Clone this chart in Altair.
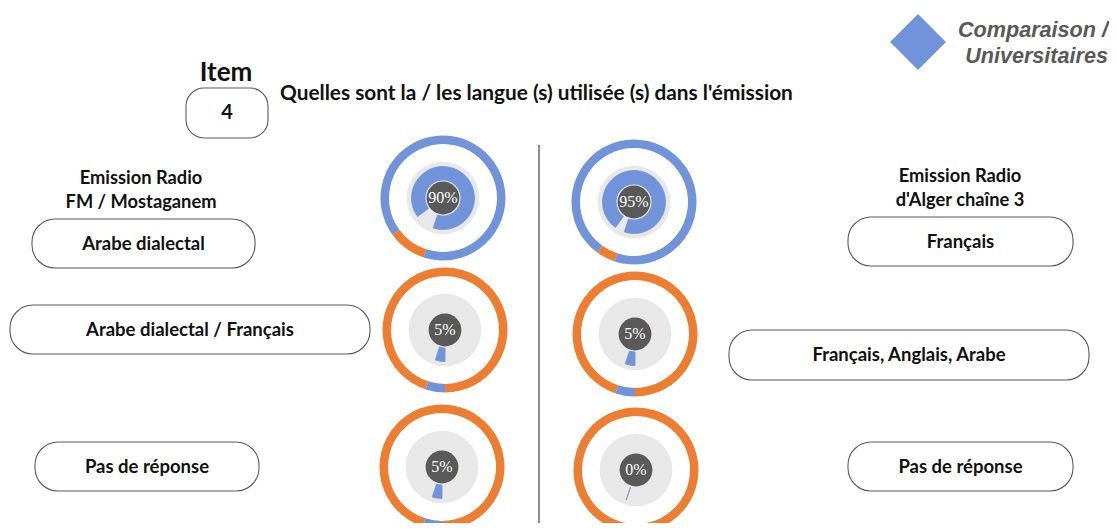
import math
import altair as alt
import pandas as pd

# ---------------- data ----------------
emissions = ["Emission Radio FM / Mostaganem"] * 3 + ["Emission Radio d'Alger chaîne 3"] * 3
reponses = ["Arabe dialectal", "Arabe dialectal / Français", "Pas de réponse",
            "Français", "Français, Anglais, Arabe", "Pas de réponse"]
pourcentages = [90, 5, 5, 95, 5, 0]

titre = "Quelles sont la / les langue (s) utilisée (s) dans l'émission"
item_num = "4"
entete_gauche = ["Emission Radio", "FM / Mostaganem"]
entete_droite = ["Emission Radio", "d'Alger chaîne 3"]
legende = ["Comparaison /", "Universitaires"]

# ---------------- layout (pixel frame) ----------------
W, H = 1101, 515
BLUE = "#7193da"
ORANGE = "#ed7d31"
LIGHT = "#e8e8e8"
DARK = "#595959"
FONT = "Lato"

donut_cx = [443, 445, 442, 634, 635, 636]
donut_cy = [198, 330, 467, 202, 334, 470]
box_x1 = [32, 10, 35, 848, 729, 848]
box_x2 = [255, 370, 259, 1073, 1089, 1073]
box_y1 = [219, 305, 442, 217, 330, 442]
box_y2 = [268, 354, 491, 266, 380, 491]

X = alt.Scale(domain=[8, 8 + W], nice=False, zero=False)
Y = alt.Scale(domain=[8, 8 + H], nice=False, zero=False, reverse=True)


def xq(f):
    return alt.X(f, type="quantitative", scale=X, axis=None)


def yq(f):
    return alt.Y(f, type="quantitative", scale=Y, axis=None)


# donut segment table
rows = []
for i, p in enumerate(pourcentages):
    rows.append(dict(id=i, part="autre", v=100 - p, ordre=0, pct=p,
                     cx=donut_cx[i], cy=donut_cy[i]))
    rows.append(dict(id=i, part="réponse", v=p, ordre=1, pct=p,
                     cx=donut_cx[i], cy=donut_cy[i]))
seg = pd.DataFrame(rows)

start = math.radians(198)
theta_scale = alt.Scale(domain=[0, 100], range=[start, start + 2 * math.pi])
color_scale = alt.Scale(domain=["autre", "réponse"], range=[ORANGE, BLUE])

base_seg = alt.Chart(seg).transform_stack(
    stack="v", groupby=["id"], as_=["t0", "t1"],
    sort=[alt.SortField("ordre", order="ascending")]
)

outer = base_seg.mark_arc(radius=62.5, radius2=54).encode(
    x=xq("cx"), y=yq("cy"),
    theta=alt.Theta("t0:Q", scale=theta_scale, stack=None),
    theta2="t1:Q",
    color=alt.Color("part:N", scale=color_scale, legend=None),
)

centres = pd.DataFrame(dict(id=list(range(6)), cx=donut_cx, cy=donut_cy, pct=pourcentages))

gray = alt.Chart(centres).mark_circle(size=math.pi * 41 ** 2, color=LIGHT, opacity=1).encode(
    x=xq("cx"), y=yq("cy"))

inner = base_seg.transform_filter(alt.datum.part == "réponse").mark_arc(
    radius=31.5, radius2=18, color=BLUE, stroke=BLUE, strokeWidth=0.8
).encode(
    x=xq("cx"), y=yq("cy"),
    theta=alt.Theta("t0:Q", scale=theta_scale, stack=None),
    theta2="t1:Q",
)

dark = alt.Chart(centres).mark_circle(size=math.pi * 18.5 ** 2, color=DARK, opacity=1).encode(
    x=xq("cx"), y=yq("cy"))

pct_text = alt.Chart(centres).transform_calculate(
    lab="datum.pct + '%'"
).mark_text(font="Liberation Serif", fontSize=16, color="white", baseline="middle", align="center").encode(
    x=xq("cx"), y=yq("cy"), text="lab:N")

# answer boxes
boxes_df = pd.DataFrame(dict(rep=reponses, x1=box_x1, x2=box_x2, y1=box_y1, y2=box_y2))
boxes = alt.Chart(boxes_df).mark_rect(
    fill="white", stroke="#5a5a5a", strokeWidth=1.1, cornerRadius=23
).encode(x=xq("x1"), x2="x2", y=yq("y1"), y2="y2")

box_text = alt.Chart(boxes_df).transform_calculate(
    mx="(datum.x1 + datum.x2) / 2", my="(datum.y1 + datum.y2) / 2"
).mark_text(font=FONT, fontWeight="bold", fontSize=18.5, color="#111111",
            baseline="middle", align="center").encode(
    x=xq("mx"), y=yq("my"), text="rep:N")

# item box
item_df = pd.DataFrame(dict(x1=[186], x2=[268], y1=[88], y2=[138], t=[item_num]))
item_box = alt.Chart(item_df).mark_rect(
    fill="white", stroke="#5a5a5a", strokeWidth=1.1, cornerRadius=18
).encode(x=xq("x1"), x2="x2", y=yq("y1"), y2="y2")
item_txt = alt.Chart(item_df).transform_calculate(
    mx="(datum.x1 + datum.x2) / 2", my="(datum.y1 + datum.y2) / 2"
).mark_text(font=FONT, fontWeight="bold", fontSize=20, color="#111111",
            baseline="middle").encode(x=xq("mx"), y=yq("my"), text="t:N")

# headings
heads = pd.DataFrame(dict(
    t=["Item", titre] + entete_gauche + entete_droite,
    x=[226, 280, 141, 141, 960, 960],
    y=[73, 94, 179, 203, 177, 201],
    size=[26, 20.8, 18.3, 18.3, 18.3, 18.3],
    al=["center", "left", "center", "center", "center", "center"],
))
head_c = alt.Chart(heads[heads.al == "center"]).mark_text(
    font=FONT, fontWeight="bold", color="#111111", baseline="middle", align="center"
).encode(x=xq("x"), y=yq("y"), text="t:N",
         size=alt.Size("size:Q", scale=None, legend=None))
head_l = alt.Chart(heads[heads.al == "left"]).mark_text(
    font=FONT, fontWeight="bold", color="#111111", baseline="middle", align="left"
).encode(x=xq("x"), y=yq("y"), text="t:N",
         size=alt.Size("size:Q", scale=None, legend=None))

# legend diamond + text
leg_df = pd.DataFrame(dict(x=[918], y=[42]))
diamond = alt.Chart(leg_df).mark_point(
    shape="square", angle=45, filled=True, opacity=1, color=BLUE, size=1560
).encode(x=xq("x"), y=yq("y"))
leg_txt = alt.Chart(pd.DataFrame(dict(t=legende, x=[1108, 1108], y=[31, 57]))).mark_text(
    font="Liberation Sans", fontStyle="italic", fontWeight="bold", fontSize=21.6,
    color="#595959", align="right", baseline="middle"
).encode(x=xq("x"), y=yq("y"), text="t:N")

# divider
div = alt.Chart(pd.DataFrame(dict(x=[539], y1=[145], y2=[525]))).mark_rule(
    color="#404040", strokeWidth=1.2
).encode(x=xq("x"), y=yq("y1"), y2="y2")

chart = alt.layer(
    div, boxes, box_text, item_box, item_txt, head_c, head_l, diamond, leg_txt,
    outer, gray, inner, dark, pct_text
).properties(width=W, height=H, padding=0, autosize="none",
             background="white").configure_view(stroke=None)

chart.save("out.html", embed_options={"renderer": "svg", "actions": False})
